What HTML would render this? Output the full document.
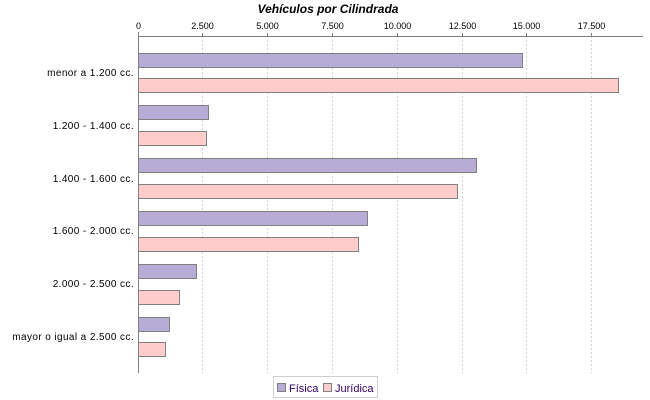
<!DOCTYPE html>
<html><head><meta charset="utf-8"><style>
html,body{margin:0;padding:0;background:#fff;}
svg{display:block;}
text{font-family:"Liberation Sans",sans-serif;}
</style></head><body>
<svg width="650" height="400" viewBox="0 0 650 400" xmlns="http://www.w3.org/2000/svg">
<rect width="650" height="400" fill="#fff"/>
<text x="328" y="13" text-anchor="middle" font-size="12" font-weight="bold" font-style="italic" fill="#000">Vehículos por Cilindrada</text>
<!-- gridlines -->
<g stroke="#d4d4d4" stroke-width="1" stroke-dasharray="2,2">
<line x1="202.5" y1="36" x2="202.5" y2="373"/>
<line x1="267.5" y1="36" x2="267.5" y2="373"/>
<line x1="332.5" y1="36" x2="332.5" y2="373"/>
<line x1="397.5" y1="36" x2="397.5" y2="373"/>
<line x1="462.5" y1="36" x2="462.5" y2="373"/>
<line x1="526.5" y1="36" x2="526.5" y2="373"/>
<line x1="591.5" y1="36" x2="591.5" y2="373"/>
</g>
<!-- ticks -->
<g stroke="#808080" stroke-width="1">
<line x1="138.5" y1="32" x2="138.5" y2="36"/>
<line x1="202.5" y1="33" x2="202.5" y2="36"/>
<line x1="267.5" y1="33" x2="267.5" y2="36"/>
<line x1="332.5" y1="33" x2="332.5" y2="36"/>
<line x1="397.5" y1="33" x2="397.5" y2="36"/>
<line x1="462.5" y1="33" x2="462.5" y2="36"/>
<line x1="526.5" y1="33" x2="526.5" y2="36"/>
<line x1="591.5" y1="33" x2="591.5" y2="36"/>
</g>
<g font-size="9" fill="#000" text-anchor="middle">
<text x="138.5" y="29">0</text>
<text x="202.5" y="29">2.500</text>
<text x="267.5" y="29">5.000</text>
<text x="332.5" y="29">7.500</text>
<text x="397.5" y="29">10.000</text>
<text x="462.5" y="29">12.500</text>
<text x="526.5" y="29">15.000</text>
<text x="591.5" y="29">17.500</text>
</g>
<!-- bars -->
<g stroke="#808080" stroke-width="1">
<rect x="138.5" y="53.5" width="384" height="14" fill="#b6acd6"/>
<rect x="138.5" y="78.5" width="480" height="14" fill="#ffcccc"/>
<rect x="138.5" y="105.5" width="70" height="14" fill="#b6acd6"/>
<rect x="138.5" y="131.5" width="68" height="14" fill="#ffcccc"/>
<rect x="138.5" y="158.5" width="338" height="14" fill="#b6acd6"/>
<rect x="138.5" y="184.5" width="319" height="14" fill="#ffcccc"/>
<rect x="138.5" y="211.5" width="229" height="14" fill="#b6acd6"/>
<rect x="138.5" y="237.5" width="220" height="14" fill="#ffcccc"/>
<rect x="138.5" y="264.5" width="58" height="14" fill="#b6acd6"/>
<rect x="138.5" y="290.5" width="41" height="14" fill="#ffcccc"/>
<rect x="138.5" y="317.5" width="31" height="14" fill="#b6acd6"/>
<rect x="138.5" y="342.5" width="27" height="14" fill="#ffcccc"/>
</g>
<!-- axes -->
<line x1="138" y1="36.5" x2="643" y2="36.5" stroke="#808080" stroke-width="1"/>
<line x1="138.5" y1="36" x2="138.5" y2="373" stroke="#808080" stroke-width="1"/>
<!-- category labels -->
<g font-size="10" fill="#000" text-anchor="end" letter-spacing="0.4">
<text x="134" y="76">menor a 1.200 cc.</text>
<text x="134" y="129">1.200 - 1.400 cc.</text>
<text x="134" y="182">1.400 - 1.600 cc.</text>
<text x="134" y="234">1.600 - 2.000 cc.</text>
<text x="134" y="287">2.000 - 2.500 cc.</text>
<text x="134" y="340">mayor o igual a 2.500 cc.</text>
</g>
<!-- legend -->
<rect x="273.5" y="376.5" width="104" height="21" fill="#fff" stroke="#d0d0d0" stroke-width="1"/>
<rect x="277.5" y="383.5" width="8" height="8" fill="#b6acd6" stroke="#808080"/>
<text x="289" y="392" font-size="11" fill="#330066">Física</text>
<rect x="323.5" y="383.5" width="8" height="8" fill="#ffcccc" stroke="#808080"/>
<text x="335" y="392" font-size="11" fill="#330066">Jurídica</text>
</svg>
</body></html>
